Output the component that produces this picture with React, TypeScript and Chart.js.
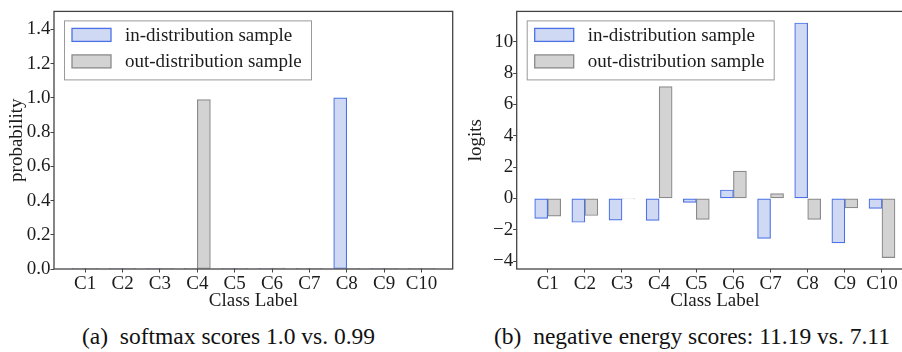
import React, { useEffect, useRef } from 'react';
import { Chart, registerables } from 'chart.js';

Chart.register(...registerables);

// ---------- data ----------
const categories = ['C1', 'C2', 'C3', 'C4', 'C5', 'C6', 'C7', 'C8', 'C9', 'C10'];
const seriesNames = ['in-distribution sample', 'out-distribution sample'];

const softmaxIn = [0.002, 0.002, 0.002, 0.002, 0.002, 0.002, 0.002, 1.0, 0.002, 0.002];
const softmaxOut = [0.002, 0.002, 0.002, 0.99, 0.002, 0.006, 0.002, 0.002, 0.002, 0.002];

const logitsIn = [-1.27, -1.52, -1.38, -1.4, -0.25, 0.54, -2.55, 11.19, -2.84, -0.64];
const logitsOut = [-1.13, -1.09, -0.03, 7.13, -1.34, 1.75, 0.31, -1.34, -0.6, -3.77];

const softmaxTicks = [0, 0.2, 0.4, 0.6, 0.8, 1.0, 1.2, 1.4];
const logitTicks = [-4, -2, 0, 2, 4, 6, 8, 10];

const captionA = '(a)\u2002softmax scores 1.0 vs. 0.99';
const captionB = '(b)\u2002negative energy scores: 11.19 vs. 7.11';

// ---------- style ----------
const FONT = "'Liberation Serif', serif";
const FS = 19;
const LEGEND_FS = 19;
const TEXT = '#1c1c1c';
const SPINE = '#444444';
const BLUE_FILL = '#cfd9f4';
const BLUE_EDGE = '#4a72e6';
const GRAY_FILL = '#d3d3d3';
const GRAY_EDGE = '#8a8a8a';
const X_MIN = -0.835;
const X_MAX = 9.835;
const HALF = 0.175;

const framePlugin = {
  id: 'frameAndLegend',
  afterDraw(chart: any) {
    const { ctx, chartArea } = chart;
    ctx.save();
    ctx.strokeStyle = SPINE;
    ctx.lineWidth = 1.3;
    ctx.strokeRect(chartArea.left, chartArea.top, chartArea.right - chartArea.left, chartArea.bottom - chartArea.top);
    const x0 = chartArea.left + 10;
    const y0 = chartArea.top + 9;
    const w = 247;
    const h = 59;
    ctx.fillStyle = 'rgba(255,255,255,0.9)';
    ctx.fillRect(x0, y0, w, h);
    ctx.strokeStyle = '#9a9a9a';
    ctx.lineWidth = 1;
    ctx.strokeRect(x0 + 0.5, y0 + 0.5, w, h);
    chart.data.datasets.forEach((ds: any, i: number) => {
      const cy = y0 + 14.5 + i * 26.5;
      ctx.fillStyle = ds.backgroundColor;
      ctx.fillRect(x0 + 8, cy - 6.5, 39, 13);
      ctx.strokeStyle = ds.borderColor;
      ctx.lineWidth = 1.3;
      ctx.strokeRect(x0 + 8, cy - 6.5, 39, 13);
      ctx.fillStyle = TEXT;
      ctx.font = `${LEGEND_FS}px ${FONT}`;
      ctx.textBaseline = 'middle';
      ctx.textAlign = 'left';
      ctx.fillText(ds.label, x0 + 61, cy + 1);
    });
    ctx.restore();
  },
};

type PanelProps = {
  left: number;
  width: number;
  yAxisWidth: number;
  padRight: number;
  inVals: number[];
  outVals: number[];
  yTicks: number[];
  yMin: number;
  yMax: number;
  yTitle: string;
  yTitlePad: number;
  fmt: (v: number) => string;
};

function BarPanel(p: PanelProps) {
  const ref = useRef<HTMLCanvasElement>(null);
  useEffect(() => {
    if (!ref.current) return;
    const font = { family: FONT, size: FS };
    const chart = new Chart(ref.current, {
      type: 'bar',
      data: {
        datasets: [
          {
            label: seriesNames[0],
            data: p.inVals.map((v, i) => ({ x: i - HALF, y: v })),
            backgroundColor: BLUE_FILL,
            borderColor: BLUE_EDGE,
            borderWidth: 1.2,
            borderSkipped: false,
            grouped: false,
            categoryPercentage: 1,
            barPercentage: 1,
          } as any,
          {
            label: seriesNames[1],
            data: p.outVals.map((v, i) => ({ x: i + HALF, y: v })),
            backgroundColor: GRAY_FILL,
            borderColor: GRAY_EDGE,
            borderWidth: 1.2,
            borderSkipped: false,
            grouped: false,
            categoryPercentage: 1,
            barPercentage: 1,
          } as any,
        ],
      },
      options: {
        responsive: false,
        animation: false,
        layout: { padding: { left: 0, top: 4, right: p.padRight, bottom: 0 } },
        plugins: { legend: { display: false }, tooltip: { enabled: false } },
        scales: {
          x: {
            type: 'linear',
            min: X_MIN,
            max: X_MAX,
            offset: false,
            afterBuildTicks: (s: any) => {
              s.ticks = categories.map((_, i) => ({ value: i }));
            },
            afterFit: (s: any) => {
              s.height = 51;
            },
            ticks: {
              callback: (_v: any, i: number) => categories[i],
              font,
              color: TEXT,
              padding: 0,
              maxRotation: 0,
              autoSkip: false,
            },
            grid: { drawOnChartArea: false, offset: false, tickLength: 3.5, color: SPINE, tickWidth: 1 },
            border: { display: false },
            title: { display: true, text: 'Class Label', font, color: TEXT, padding: { top: 0, bottom: 7.5 } },
          },
          y: {
            type: 'linear',
            min: p.yMin,
            max: p.yMax,
            afterBuildTicks: (s: any) => {
              s.ticks = p.yTicks.map((v) => ({ value: v }));
            },
            afterFit: (s: any) => {
              s.width = p.yAxisWidth;
            },
            ticks: {
              callback: (v: any) => p.fmt(Number(v)),
              font,
              color: TEXT,
              padding: 0,
            },
            grid: { drawOnChartArea: false, tickLength: 3.5, color: SPINE, tickWidth: 1 },
            border: { display: false },
            title: { display: true, text: p.yTitle, font, color: TEXT, padding: { top: p.yTitlePad, bottom: 0 } },
          },
        },
      } as any,
      plugins: [framePlugin],
    });
    return () => chart.destroy();
  }, []);
  return (
    <canvas
      ref={ref}
      width={p.width}
      height={320}
      style={{ position: 'absolute', left: p.left, top: 0, width: p.width, height: 320 }}
    />
  );
}

const fmtProb = (v: number) => v.toFixed(1);
const fmtLogit = (v: number) => (v < 0 ? '\u2212' + Math.abs(v) : String(v));

export default function App() {
  const capStyle: React.CSSProperties = {
    position: 'absolute',
    top: 323,
    fontFamily: FONT,
    fontSize: 23.5,
    lineHeight: '27px',
    whiteSpace: 'pre',
    color: '#111',
  };
  return (
    <div style={{ position: 'absolute', left: 0, top: 0, width: 902, height: 352, overflow: 'hidden', background: '#fff' }}>
      <BarPanel
        left={0}
        width={455}
        yAxisWidth={54}
        padRight={2.3}
        inVals={softmaxIn}
        outVals={softmaxOut}
        yTicks={softmaxTicks}
        yMin={0}
        yMax={1.505}
        yTitle="probability"
        yTitlePad={6}
        fmt={fmtProb}
      />
      <BarPanel
        left={455}
        width={465}
        yAxisWidth={61.7}
        padRight={7}
        inVals={logitsIn}
        outVals={logitsOut}
        yTicks={logitTicks}
        yMin={-4.5}
        yMax={11.93}
        yTitle="logits"
        yTitlePad={9.6}
        fmt={fmtLogit}
      />
      <div style={{ ...capStyle, left: 82 }}>{captionA}</div>
      <div style={{ ...capStyle, left: 494 }}>{captionB}</div>
    </div>
  );
}
